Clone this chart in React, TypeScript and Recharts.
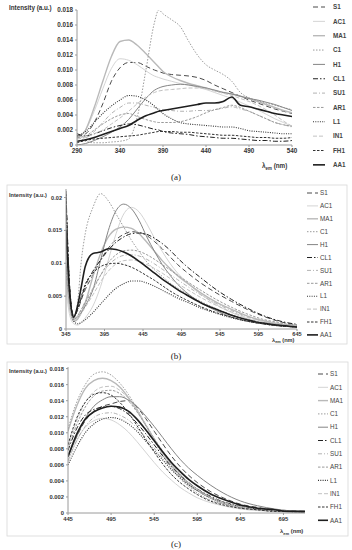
import React from 'react';
import { LineChart, Line, XAxis, YAxis } from 'recharts';

// ---------- shared ----------
const seriesNames = ['S1', 'AC1', 'MA1', 'C1', 'H1', 'CL1', 'SU1', 'AR1', 'L1', 'IN1', 'FH1', 'AA1'];

// ---------- panel (a) ----------
const xA = [290, 300, 310, 320, 330, 340, 350, 360, 370, 380, 385, 390, 400, 410, 420, 430, 440, 450, 460, 470, 480, 490, 500, 510, 520, 530, 540];
const ticksXA = [290, 340, 390, 440, 490, 540];
const ticksYA = [0, 0.002, 0.004, 0.006, 0.008, 0.01, 0.012, 0.014, 0.016, 0.018];
const aS1 = [0.0012, 0.0015, 0.003, 0.0055, 0.0085, 0.0103, 0.011, 0.011, 0.0105, 0.01, 0.0098, 0.0096, 0.0094, 0.0093, 0.0092, 0.009, 0.0086, 0.008, 0.0075, 0.007, 0.0065, 0.006, 0.0056, 0.0052, 0.0048, 0.0045, 0.0042];
const aAC1 = [0.001, 0.002, 0.0045, 0.0075, 0.0102, 0.0115, 0.0113, 0.0107, 0.0099, 0.0092, 0.009, 0.0088, 0.0085, 0.0082, 0.008, 0.0077, 0.0074, 0.007, 0.0066, 0.0062, 0.0057, 0.0052, 0.0047, 0.0041, 0.0035, 0.003, 0.0025];
const aMA1 = [0.0008, 0.002, 0.005, 0.0085, 0.0118, 0.0138, 0.014, 0.0133, 0.0122, 0.011, 0.0104, 0.0098, 0.0091, 0.0086, 0.0082, 0.0079, 0.0076, 0.0073, 0.007, 0.0068, 0.0065, 0.0062, 0.0058, 0.0054, 0.005, 0.0046, 0.0043];
const aC1 = [0.0012, 0.0005, 0.0003, 0.0003, 0.0004, 0.0005, 0.0008, 0.0037, 0.0099, 0.0163, 0.018, 0.0175, 0.0167, 0.0158, 0.0138, 0.012, 0.0107, 0.01, 0.0094, 0.0085, 0.007, 0.0063, 0.0059, 0.0056, 0.0053, 0.005, 0.0047];
const aH1 = [0.0, 0.0002, 0.0006, 0.0011, 0.0017, 0.0024, 0.0034, 0.0048, 0.0062, 0.0073, 0.0076, 0.0078, 0.008, 0.0081, 0.008, 0.0078, 0.0076, 0.0073, 0.007, 0.0068, 0.0065, 0.0062, 0.006, 0.0057, 0.0054, 0.005, 0.0046];
const aCL1 = [0.0015, 0.0012, 0.0015, 0.0019, 0.0023, 0.0026, 0.0028, 0.0027, 0.0024, 0.0021, 0.002, 0.0018, 0.0016, 0.0015, 0.0014, 0.0012, 0.0011, 0.001, 0.0009, 0.0009, 0.0008, 0.0007, 0.0006, 0.0006, 0.0005, 0.0005, 0.0006];
const aSU1 = [0.0012, 0.001, 0.0018, 0.003, 0.0042, 0.005, 0.0056, 0.0056, 0.0053, 0.005, 0.0048, 0.0047, 0.0046, 0.0045, 0.0045, 0.0046, 0.0046, 0.0047, 0.0049, 0.0051, 0.0048, 0.0045, 0.004, 0.0035, 0.003, 0.0027, 0.0024];
const aAR1 = [0.001, 0.0012, 0.002, 0.0028, 0.0035, 0.004, 0.0042, 0.0038, 0.0034, 0.0031, 0.003, 0.003, 0.003, 0.0031, 0.0034, 0.0038, 0.0043, 0.0047, 0.005, 0.0053, 0.005, 0.0045, 0.004, 0.0035, 0.003, 0.0027, 0.0025];
const aL1 = [0.0012, 0.0018, 0.003, 0.0042, 0.0052, 0.006, 0.0066, 0.0065, 0.006, 0.0052, 0.0047, 0.0042, 0.0035, 0.003, 0.0028, 0.0027, 0.0026, 0.0025, 0.0024, 0.0024, 0.0022, 0.0019, 0.0018, 0.0017, 0.0016, 0.0015, 0.0015];
const aIN1 = [0.0008, 0.001, 0.0015, 0.002, 0.0028, 0.0036, 0.0045, 0.0055, 0.0064, 0.007, 0.0072, 0.0073, 0.0074, 0.0075, 0.0076, 0.0076, 0.0075, 0.0072, 0.0069, 0.0066, 0.0062, 0.0058, 0.0053, 0.0047, 0.004, 0.0032, 0.0025];
const aFH1 = [0.0003, 0.0006, 0.0008, 0.0009, 0.001, 0.0011, 0.0012, 0.0013, 0.0015, 0.0017, 0.0018, 0.0018, 0.0018, 0.0017, 0.0017, 0.0016, 0.0015, 0.0014, 0.0013, 0.0013, 0.0012, 0.0011, 0.001, 0.001, 0.0009, 0.0009, 0.001];
const aAA1 = [0.0005, 0.0007, 0.001, 0.0014, 0.0018, 0.0022, 0.0026, 0.0033, 0.0039, 0.0043, 0.0045, 0.0046, 0.0048, 0.005, 0.0052, 0.0054, 0.0056, 0.0056, 0.0058, 0.0064, 0.0053, 0.0051, 0.0048, 0.0045, 0.0042, 0.004, 0.0038];

// ---------- panel (b) ----------
const xB = [345, 350, 355, 360, 365, 370, 380, 390, 400, 410, 420, 430, 440, 450, 460, 470, 480, 490, 500, 520, 540, 560, 580, 600, 620, 645];
const ticksXB = [345, 395, 445, 495, 545, 595, 645];
const ticksYB = [0, 0.005, 0.01, 0.015, 0.02];
const bS1 = [0.021, 0.006, 0.002, 0.0028, 0.0045, 0.006, 0.0082, 0.0105, 0.0123, 0.0136, 0.0144, 0.0148, 0.0147, 0.0142, 0.0133, 0.0122, 0.011, 0.0098, 0.0088, 0.007, 0.0055, 0.0042, 0.003, 0.002, 0.0012, 0.0006];
const bAC1 = [0.006, 0.002, 0.0008, 0.0006, 0.001, 0.0017, 0.0035, 0.0065, 0.0105, 0.0145, 0.0175, 0.0185, 0.0178, 0.016, 0.0138, 0.0118, 0.01, 0.0085, 0.0073, 0.0053, 0.0037, 0.0025, 0.0016, 0.001, 0.0007, 0.0004];
const bMA1 = [0.008, 0.003, 0.0012, 0.0015, 0.0025, 0.004, 0.008, 0.0115, 0.014, 0.0152, 0.0155, 0.0153, 0.0145, 0.0132, 0.0118, 0.0104, 0.0092, 0.0081, 0.0072, 0.0055, 0.0041, 0.003, 0.002, 0.0013, 0.0008, 0.0005];
const bC1 = [0.009, 0.004, 0.0018, 0.004, 0.0105, 0.0145, 0.0185, 0.0206, 0.0195, 0.0175, 0.0155, 0.0135, 0.0118, 0.0102, 0.009, 0.008, 0.007, 0.0062, 0.0055, 0.0042, 0.0031, 0.0022, 0.0015, 0.001, 0.0007, 0.0004];
const bH1 = [0.01, 0.004, 0.0015, 0.0018, 0.0025, 0.0035, 0.006, 0.0105, 0.015, 0.018, 0.019, 0.0183, 0.0165, 0.014, 0.0118, 0.0098, 0.0082, 0.0068, 0.0057, 0.004, 0.0028, 0.0018, 0.0012, 0.0008, 0.0005, 0.0003];
const bCL1 = [0.0205, 0.006, 0.002, 0.003, 0.0048, 0.0065, 0.0088, 0.0105, 0.012, 0.0132, 0.014, 0.0145, 0.0146, 0.0144, 0.0138, 0.013, 0.012, 0.0108, 0.0097, 0.0078, 0.006, 0.0045, 0.0032, 0.0021, 0.0013, 0.0007];
const bSU1 = [0.014, 0.004, 0.0015, 0.002, 0.003, 0.0042, 0.0062, 0.0082, 0.0097, 0.0107, 0.0112, 0.0113, 0.0111, 0.0106, 0.0099, 0.0091, 0.0083, 0.0075, 0.0067, 0.0052, 0.0039, 0.0028, 0.0019, 0.0012, 0.0008, 0.0005];
const bAR1 = [0.017, 0.005, 0.0015, 0.002, 0.003, 0.004, 0.006, 0.0082, 0.0101, 0.0113, 0.0119, 0.012, 0.0118, 0.0113, 0.0106, 0.0098, 0.009, 0.0082, 0.0074, 0.0059, 0.0045, 0.0033, 0.0023, 0.0015, 0.001, 0.0005];
const bL1 = [0.019, 0.005, 0.0012, 0.0008, 0.001, 0.0014, 0.0025, 0.0038, 0.0051, 0.0062, 0.0069, 0.0073, 0.0073, 0.007, 0.0065, 0.0059, 0.0053, 0.0047, 0.0042, 0.0032, 0.0024, 0.0017, 0.0012, 0.0008, 0.0005, 0.0003];
const bIN1 = [0.012, 0.004, 0.0013, 0.0016, 0.0024, 0.0033, 0.0052, 0.0072, 0.0088, 0.0099, 0.0104, 0.0105, 0.0103, 0.0098, 0.0092, 0.0085, 0.0077, 0.0069, 0.0062, 0.0048, 0.0036, 0.0026, 0.0018, 0.0012, 0.0008, 0.0004];
const bFH1 = [0.02, 0.006, 0.0018, 0.003, 0.005, 0.0068, 0.0085, 0.0095, 0.0099, 0.01, 0.0098, 0.0094, 0.0088, 0.0081, 0.0074, 0.0066, 0.0058, 0.0051, 0.0045, 0.0034, 0.0025, 0.0018, 0.0012, 0.0008, 0.0005, 0.0003];
const bAA1 = [0.015, 0.005, 0.0018, 0.0035, 0.0065, 0.0095, 0.0115, 0.0117, 0.0122, 0.0121, 0.0117, 0.0111, 0.0103, 0.0094, 0.0085, 0.0076, 0.0068, 0.006, 0.0053, 0.004, 0.003, 0.0021, 0.0014, 0.0009, 0.0006, 0.0003];

// ---------- panel (c) ----------
const xC = [445, 455, 465, 475, 485, 495, 505, 515, 525, 535, 545, 555, 565, 575, 585, 595, 610, 625, 645, 665, 685, 700, 720];
const ticksXC = [445, 495, 545, 595, 645, 695];
const ticksYC = [0, 0.002, 0.004, 0.006, 0.008, 0.01, 0.012, 0.014, 0.016, 0.018];
const cS1 = [0.0072, 0.0095, 0.0115, 0.0127, 0.0133, 0.0136, 0.0139, 0.014, 0.0132, 0.0118, 0.0102, 0.0086, 0.0071, 0.0058, 0.0047, 0.0038, 0.0027, 0.0019, 0.0011, 0.0007, 0.0004, 0.0003, 0.0002];
const cAC1 = [0.0065, 0.009, 0.0107, 0.0115, 0.0118, 0.0116, 0.011, 0.0101, 0.0089, 0.0076, 0.0063, 0.0051, 0.0041, 0.0032, 0.0025, 0.0019, 0.0013, 0.0009, 0.0005, 0.0003, 0.0002, 0.0001, 0.0001];
const cMA1 = [0.0102, 0.0133, 0.0155, 0.0165, 0.0168, 0.0165, 0.0157, 0.0144, 0.0128, 0.011, 0.0092, 0.0075, 0.006, 0.0047, 0.0036, 0.0028, 0.0019, 0.0012, 0.0007, 0.0004, 0.0003, 0.0002, 0.0001];
const cC1 = [0.0105, 0.0138, 0.016, 0.0173, 0.0176, 0.0172, 0.0162, 0.0148, 0.013, 0.011, 0.009, 0.0072, 0.0056, 0.0043, 0.0033, 0.0025, 0.0016, 0.0011, 0.0006, 0.0004, 0.0002, 0.0002, 0.0001];
const cH1 = [0.007, 0.0095, 0.0118, 0.0133, 0.0141, 0.0145, 0.0145, 0.0141, 0.0133, 0.0121, 0.0108, 0.0094, 0.008, 0.0067, 0.0056, 0.0047, 0.0035, 0.0025, 0.0015, 0.0009, 0.0005, 0.0003, 0.0002];
const cCL1 = [0.0078, 0.0105, 0.0122, 0.0129, 0.0132, 0.0133, 0.013, 0.0123, 0.0112, 0.0099, 0.0085, 0.0071, 0.0058, 0.0047, 0.0038, 0.003, 0.0021, 0.0014, 0.0009, 0.0005, 0.0003, 0.0002, 0.0001];
const cSU1 = [0.0065, 0.009, 0.0108, 0.0119, 0.0124, 0.0125, 0.0122, 0.0116, 0.0106, 0.0094, 0.0081, 0.0068, 0.0056, 0.0045, 0.0036, 0.0029, 0.002, 0.0014, 0.0008, 0.0005, 0.0003, 0.0002, 0.0001];
const cAR1 = [0.008, 0.011, 0.0132, 0.0146, 0.0152, 0.0153, 0.0149, 0.014, 0.0126, 0.011, 0.0093, 0.0077, 0.0062, 0.0049, 0.0038, 0.003, 0.002, 0.0013, 0.0008, 0.0005, 0.0003, 0.0002, 0.0001];
const cL1 = [0.006, 0.0082, 0.01, 0.0111, 0.0117, 0.0119, 0.0117, 0.0111, 0.0102, 0.009, 0.0078, 0.0066, 0.0054, 0.0044, 0.0035, 0.0028, 0.0019, 0.0013, 0.0008, 0.0005, 0.0003, 0.0002, 0.0001];
const cIN1 = [0.0085, 0.0115, 0.0138, 0.0151, 0.0157, 0.0158, 0.0153, 0.0143, 0.0128, 0.0111, 0.0093, 0.0076, 0.0061, 0.0048, 0.0038, 0.0029, 0.0019, 0.0013, 0.0008, 0.0005, 0.0003, 0.0002, 0.0001];
const cFH1 = [0.0085, 0.0118, 0.0138, 0.0148, 0.015, 0.0147, 0.0138, 0.0125, 0.0109, 0.0092, 0.0076, 0.0061, 0.0048, 0.0038, 0.003, 0.0023, 0.0015, 0.001, 0.0006, 0.0004, 0.0002, 0.0002, 0.0001];
const cAA1 = [0.007, 0.0098, 0.0117, 0.0126, 0.0131, 0.0133, 0.0132, 0.0127, 0.0117, 0.0104, 0.009, 0.0076, 0.0063, 0.0052, 0.0042, 0.0034, 0.0024, 0.0017, 0.001, 0.0006, 0.0004, 0.0002, 0.0002];

// ---------- styles ----------
type St = { stroke: string; dash?: string; w: number };
const lineStyles: Record<string, St> = {
  S1: { stroke: '#4a4a4a', dash: '5 3', w: 1 },
  AC1: { stroke: '#d4d4d4', w: 1 },
  MA1: { stroke: '#b9b9b9', w: 1.4 },
  C1: { stroke: '#9c9c9c', dash: '1.5 1.5', w: 1 },
  H1: { stroke: '#858585', w: 1 },
  CL1: { stroke: '#222', dash: '5 2 1.5 2', w: 1 },
  SU1: { stroke: '#b3b3b3', dash: '4 2 1 2', w: 1 },
  AR1: { stroke: '#999', dash: '2.5 1.5', w: 1 },
  L1: { stroke: '#333', dash: '1 1.3', w: 1.1 },
  IN1: { stroke: '#c2c2c2', dash: '4 2', w: 1 },
  FH1: { stroke: '#333', dash: '2.5 1.5', w: 1 },
  AA1: { stroke: '#1e1e1e', w: 1.6 },
};

function rows(xs: number[], vals: number[][]) {
  return xs.map((x, i) => {
    const r: Record<string, number> = { x };
    seriesNames.forEach((n, k) => (r[n] = vals[k][i]));
    return r;
  });
}

const dataA = rows(xA, [aS1, aAC1, aMA1, aC1, aH1, aCL1, aSU1, aAR1, aL1, aIN1, aFH1, aAA1]);
const dataB = rows(xB, [bS1, bAC1, bMA1, bC1, bH1, bCL1, bSU1, bAR1, bL1, bIN1, bFH1, bAA1]);
const dataC = rows(xC, [cS1, cAC1, cMA1, cC1, cH1, cCL1, cSU1, cAR1, cL1, cIN1, cFH1, cAA1]);

const FONT = '"Liberation Sans", Arial, sans-serif';
const AXIS = '#9a9a9a';

type PanelProps = {
  data: Record<string, number>[];
  top: number;
  width: number;
  height: number;
  margin: { top: number; right: number; bottom: number; left: number };
  yWidth: number;
  xHeight: number;
  xDomain: [number, number];
  yDomain: [number, number];
  xTicks: number[];
  yTicks: number[];
  fmt: (v: number) => string;
  fs: number;
};

function Panel(p: PanelProps) {
  const tickStyle = { fontSize: p.fs, fontWeight: 700, fill: '#333', fontFamily: FONT };
  return (
    <div style={{ position: 'absolute', left: 0, top: p.top }}>
      <LineChart width={p.width} height={p.height} data={p.data} margin={p.margin}>
        <XAxis
          dataKey="x"
          type="number"
          domain={p.xDomain}
          ticks={p.xTicks}
          allowDataOverflow
          height={p.xHeight}
          tick={tickStyle}
          tickSize={2}
          tickMargin={1.5}
          stroke={AXIS}
          interval={0}
        />
        <XAxis
          xAxisId="top"
          orientation="top"
          dataKey="x"
          type="number"
          domain={p.xDomain}
          height={0}
          tick={false}
          tickLine={false}
          stroke={AXIS}
        />
        <YAxis
          type="number"
          domain={p.yDomain}
          ticks={p.yTicks}
          allowDataOverflow
          width={p.yWidth}
          tick={tickStyle}
          tickSize={2}
          tickMargin={2}
          stroke={AXIS}
          tickFormatter={p.fmt}
          interval={0}
        />
        <YAxis
          yAxisId="right"
          orientation="right"
          type="number"
          domain={p.yDomain}
          width={0}
          tick={false}
          tickLine={false}
          stroke={AXIS}
        />
        {seriesNames.map((n) => (
          <Line
            key={n}
            dataKey={n}
            type="monotone"
            stroke={lineStyles[n].stroke}
            strokeWidth={lineStyles[n].w}
            strokeDasharray={lineStyles[n].dash}
            dot={false}
            activeDot={false}
            isAnimationActive={false}
          />
        ))}
      </LineChart>
    </div>
  );
}

const fmt3 = (v: number) => (v === 0 ? '0' : v.toFixed(3));
const fmtB = (v: number) => (v === 0 ? '0' : String(v));

function Legend(props: { y0: number; step: number; x1: number; x2: number; tx: number; bold: boolean }) {
  return (
    <g>
      {seriesNames.map((n, i) => {
        const y = props.y0 + i * props.step;
        const s = lineStyles[n];
        return (
          <g key={n}>
            <line x1={props.x1} x2={props.x2} y1={y} y2={y} stroke={s.stroke} strokeWidth={s.w} strokeDasharray={s.dash} />
            <text x={props.tx} y={y + 2.2} fontSize={6.3} fontWeight={props.bold ? 700 : 400} fill="#444" fontFamily={FONT}>
              {n}
            </text>
          </g>
        );
      })}
    </g>
  );
}

function Lam(props: { x: number; y: number; fs: number }) {
  return (
    <text x={props.x} y={props.y} fontSize={props.fs} fontWeight={700} fill="#333" fontFamily={FONT}>
      λ
      <tspan fontSize={props.fs * 0.7} dy={1.5}>em</tspan>
      <tspan dy={-1.5}> (nm)</tspan>
    </text>
  );
}

export default function App() {
  return (
    <div style={{ position: 'absolute', left: 0, top: 0, width: 352, height: 550, background: '#fff', overflow: 'hidden' }}>
      <Panel
        data={dataA}
        top={0}
        width={305}
        height={162}
        margin={{ top: 10, right: 13, bottom: 0, left: 0 }}
        yWidth={77}
        xHeight={17}
        xDomain={[290, 540]}
        yDomain={[0, 0.018]}
        xTicks={ticksXA}
        yTicks={ticksYA}
        fmt={fmt3}
        fs={6.3}
      />
      <Panel
        data={dataB}
        top={185}
        width={306}
        height={160}
        margin={{ top: 4, right: 9, bottom: 0, left: 0 }}
        yWidth={66}
        xHeight={16}
        xDomain={[345, 645]}
        yDomain={[0, 0.0213]}
        xTicks={ticksXB}
        yTicks={ticksYB}
        fmt={fmtB}
        fs={5.6}
      />
      <Panel
        data={dataC}
        top={362}
        width={312}
        height={166}
        margin={{ top: 5, right: 7, bottom: 0, left: 0 }}
        yWidth={68}
        xHeight={15}
        xDomain={[445, 720]}
        yDomain={[0, 0.0182]}
        xTicks={ticksXC}
        yTicks={ticksYC}
        fmt={fmt3}
        fs={5.8}
      />
      <svg width={352} height={550} style={{ position: 'absolute', left: 0, top: 0, pointerEvents: 'none' }}>
        {/* panel (a) */}
        <text x={9} y={10} fontSize={6.3} fontWeight={700} fill="#333" fontFamily={FONT}>Intensity (a.u.)</text>
        <Lam x={262} y={168} fs={6.3} />
        <Legend y0={7} step={14.35} x1={313} x2={325} tx={333} bold={true} />
        <text x={176} y={180} fontSize={9} textAnchor="middle" fontFamily='"Liberation Serif", serif' fill="#222">(a)</text>

        {/* panel (b) */}
        <rect x={7} y={185} width={340} height={159} fill="none" stroke="#d8d8d8" strokeWidth={0.8} />
        <text x={9} y={197} fontSize={5.6} fontWeight={700} fill="#333" fontFamily={FONT}>Intensity (a.u.)</text>
        <Lam x={272} y={341.5} fs={5.6} />
        <Legend y0={193} step={12.9} x1={307} x2={318} tx={320} bold={false} />
        <text x={176} y={359} fontSize={9} textAnchor="middle" fontFamily='"Liberation Serif", serif' fill="#222">(b)</text>

        {/* panel (c) */}
        <rect x={7} y={362} width={341} height={174} fill="none" stroke="#d8d8d8" strokeWidth={0.8} />
        <text x={9} y={373} fontSize={5.6} fontWeight={700} fill="#333" fontFamily={FONT}>Intensity (a.u.)</text>
        <Lam x={280} y={533} fs={5.8} />
        <Legend y0={374} step={13.3} x1={318} x2={328} tx={330} bold={false} />
        <text x={176} y={547} fontSize={9} textAnchor="middle" fontFamily='"Liberation Serif", serif' fill="#222">(c)</text>
      </svg>
    </div>
  );
}
